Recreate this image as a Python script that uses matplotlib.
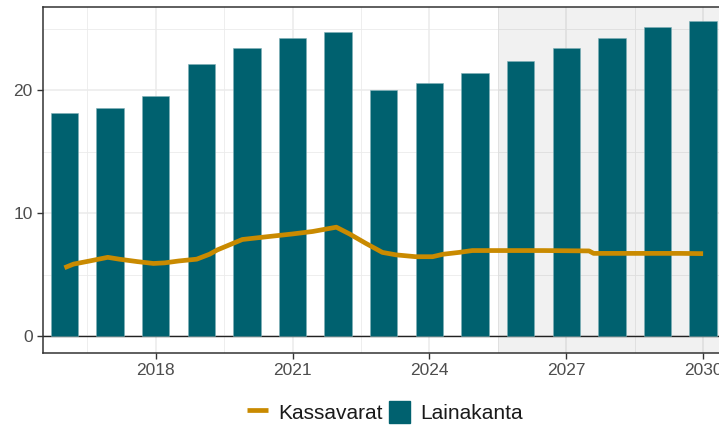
import matplotlib
matplotlib.use("Agg")
import matplotlib.pyplot as plt
from matplotlib.lines import Line2D
from matplotlib.patches import Patch

# Data
years = [2016, 2017, 2018, 2019, 2020, 2021, 2022, 2023, 2024, 2025, 2026, 2027, 2028, 2029, 2030]
lainakanta = [18.15, 18.5, 19.5, 22.1, 23.4, 24.25, 24.75, 20.0, 20.55, 21.4, 22.4, 23.4, 24.25, 25.1, 25.6]

kassa_t = [2016.0, 2016.2, 2016.55, 2016.95, 2017.2, 2017.6, 2017.95, 2018.2, 2018.5, 2018.9,
           2019.18, 2019.35, 2019.9, 2020.43, 2021.0, 2021.44, 2021.96, 2022.25, 2022.6, 2022.97,
           2023.27, 2023.7, 2024.07, 2024.3, 2024.65, 2024.94, 2025.5, 2026.5, 2027.5, 2027.6,
           2028.5, 2029.5, 2030.0]
kassavarat = [5.55, 5.85, 6.1, 6.4, 6.25, 6.05, 5.9, 5.95, 6.1, 6.25,
              6.65, 7.0, 7.85, 8.07, 8.3, 8.5, 8.85, 8.3, 7.55, 6.8,
              6.6, 6.45, 6.45, 6.65, 6.8, 6.95, 6.95, 6.95, 6.92, 6.72,
              6.72, 6.72, 6.7]

shade_start = 2025.5
xticks = [2018, 2021, 2024, 2027, 2030]
yticks = [0, 10, 20]

bar_color = "#00616F"
line_color = "#C98A00"

plt.rcParams['font.family'] = ['Liberation Sans', 'DejaVu Sans']

fig = plt.figure(figsize=(7.19, 4.28), dpi=100)
ax = fig.add_axes([0.0598, 0.1752, 0.9479, 0.8084])

xlim = (2015.53, 2030.47)
ylim = (-1.38, 26.75)
ax.set_xlim(*xlim)
ax.set_ylim(*ylim)

# grid
for x in xticks:
    ax.axvline(x, color="#ebebeb", lw=1.1, zorder=0)
for x in [2016.5, 2019.5, 2022.5, 2025.5, 2028.5]:
    ax.axvline(x, color="#ebebeb", lw=0.6, zorder=0)
for y in yticks:
    ax.axhline(y, color="#ebebeb", lw=1.1, zorder=0)
for y in [5, 15, 25]:
    ax.axhline(y, color="#ebebeb", lw=0.6, zorder=0)

ax.axvspan(shade_start, xlim[1] + 1, color="black", alpha=0.055, lw=0, zorder=0.5)

ax.axhline(0, color="#222222", lw=1.0, zorder=1)

ax.bar(years, lainakanta, width=0.6, color=bar_color, edgecolor="#7fb0b7", linewidth=0.4, zorder=2)
ax.plot(kassa_t, kassavarat, color=line_color, lw=3.4, solid_capstyle="butt", zorder=3)

ax.set_xticks(xticks)
ax.set_xticklabels([str(x) for x in xticks])
ax.set_yticks(yticks)
ax.tick_params(axis="both", labelsize=12.5, labelcolor="#4d4d4d", color="#333333", length=4, width=1.0)

for s in ["left", "bottom", "top"]:
    ax.spines[s].set_color("#333333")
    ax.spines[s].set_linewidth(1.1)
ax.spines["right"].set_visible(False)

handles = [Line2D([0], [0], color=line_color, lw=3.4, solid_capstyle="butt"),
           Patch(facecolor=bar_color, edgecolor=bar_color)]
leg = fig.legend(handles, ["Kassavarat", "Lainakanta"], loc="center", bbox_to_anchor=(0.535, 0.037),
                 ncol=2, frameon=False, fontsize=15, handlelength=1.0, handleheight=1.2,
                 handletextpad=0.5, columnspacing=0.3)
for t in leg.get_texts():
    t.set_color("#1a1a1a")

fig.savefig("out.png", dpi=100)
